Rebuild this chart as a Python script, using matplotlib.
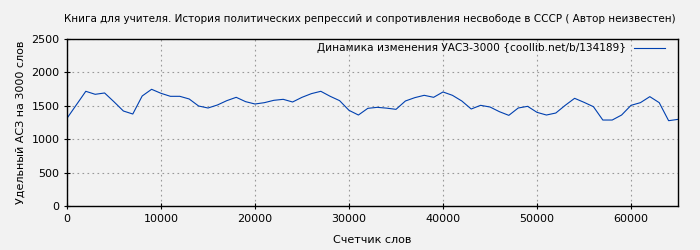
import matplotlib
matplotlib.use('Agg')
import matplotlib.pyplot as plt

# Счетчик слов (каждые 1000 слов)
slova = list(range(0, 66000, 1000))
# Удельный АСЗ на 3000 слов
asz = [1313, 1515, 1717, 1672, 1692, 1560, 1422, 1377, 1647, 1747,
       1687, 1642, 1642, 1602, 1497, 1467, 1512, 1577, 1627, 1562,
       1527, 1547, 1582, 1597, 1557, 1627, 1682, 1717, 1642, 1577,
       1432, 1362, 1462, 1477, 1465, 1447, 1572, 1622, 1657, 1627,
       1707, 1657, 1572, 1452, 1507, 1482, 1412, 1357, 1467, 1492,
       1402, 1362, 1392, 1507, 1612, 1552, 1487, 1287, 1287, 1362,
       1507, 1547, 1637, 1547, 1277, 1297]

titul = u'Книга для учителя. История политических репрессий и сопротивления несвободе в СССР ( Автор неизвестен)'
legenda = u'Динамика изменения УАСЗ-3000 {coollib.net/b/134189}'

plt.rcParams['font.family'] = 'DejaVu Sans'
plt.rcParams['font.size'] = 8

fig = plt.figure(figsize=(7, 2.5), dpi=100, facecolor='#f2f2f2')
ax = fig.add_axes([0.0957, 0.176, 0.8729, 0.668])
ax.set_facecolor('#f2f2f2')

ax.plot(slova, asz, '-', color='#0040b0', lw=0.8, label=legenda)

ax.set_xlim(0, 65000)
ax.set_ylim(0, 2500)
ax.set_xticks(range(0, 70000, 10000))
ax.set_yticks(range(0, 3000, 500))
ax.grid(True, color='#999999', linestyle=(0, (1.5, 3)), lw=0.8)
ax.tick_params(direction='inout', length=4, width=0.8, colors='black')
for s in ax.spines.values():
    s.set_linewidth(1.0)

ax.set_xlabel(u'Счетчик слов', labelpad=8)
ax.set_ylabel(u'Удельный АСЗ на 3000 слов')
fig.text(0.528, 0.925, titul, ha='center', va='center', fontsize=7.45)

ax.legend(loc='upper right', bbox_to_anchor=(0.985, 1.0), frameon=False,
          markerfirst=False, handlelength=2.9, borderaxespad=0, fontsize=7.6)

plt.savefig('out.png', dpi=100, facecolor='#f2f2f2')
